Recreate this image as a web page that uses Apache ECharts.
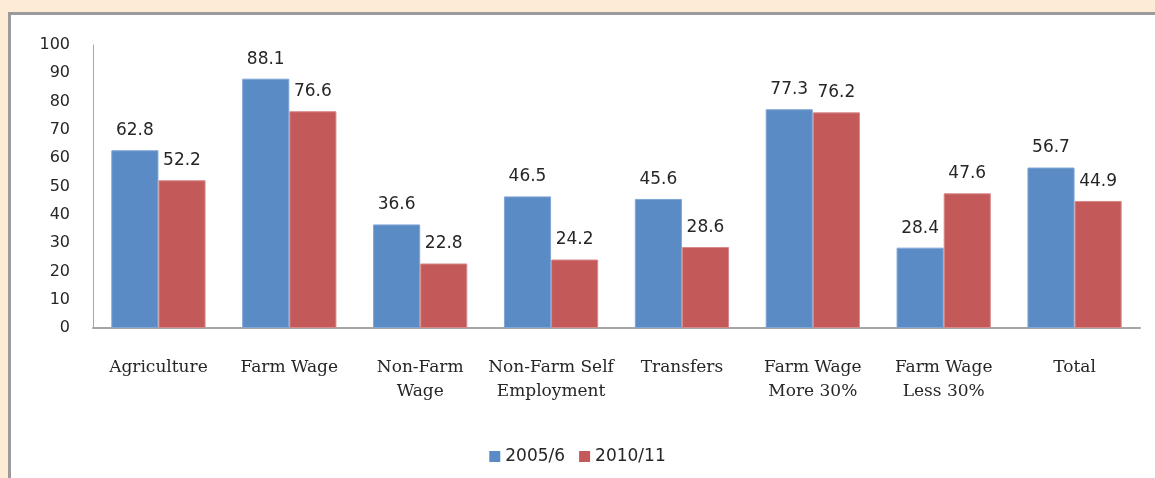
<!DOCTYPE html>
<html>
<head>
<meta charset="utf-8">
<script src="https://cdn.jsdelivr.net/npm/echarts@6/dist/echarts.min.js"></script>
<style>
    body { margin: 0; background: #FEEBD6; overflow: hidden; }
    #frame {
        position: absolute; left: 8px; top: 12px; width: 1200px; height: 520px;
        background: #fff; border: 3px solid #9b9b9b;
    }
    #chart { position: absolute; left: 0; top: 0; width: 1155px; height: 478px; }
</style>
</head>
<body>
<div id="frame"></div>
<div id="chart"></div>
<script>
var categories = ['Agriculture', 'Farm Wage', 'Non-Farm\nWage', 'Non-Farm Self\nEmployment', 'Transfers', 'Farm Wage\nMore 30%', 'Farm Wage\nLess 30%', 'Total']
var data2005 = [62.8, 88.1, 36.6, 46.5, 45.6, 77.3, 28.4, 56.7]
var data2010 = [52.2, 76.6, 22.8, 24.2, 28.6, 76.2, 47.6, 44.9]
var seriesNames = ['2005/6', '2010/11']

var chart = echarts.init(document.getElementById('chart'))
// labels above each bar
var labelStyle = {
    show: true,
    position: 'top',
    distance: 11,
    color: '#262626',
    fontFamily: 'DejaVu Sans',
    fontSize: 17
}
var option = {
    animation: false,
    backgroundColor: 'transparent',
    grid: { left: 93, right: 15, top: 45, bottom: 150 },
    legend: {
        data: seriesNames,
        left: 'center',
        top: 443,
        icon: 'rect',
        itemWidth: 11,
        itemHeight: 11,
        itemGap: 14,
        itemStyle: { borderWidth: 0 },
        textStyle: { color: '#262626', fontFamily: 'DejaVu Sans', fontSize: 17 }
    },
    xAxis: {
        type: 'category',
        data: categories,
        axisTick: { show: false },
        axisLine: { lineStyle: { color: '#a6a6a6', width: 2 } },
        axisLabel: {
            margin: 28,
            interval: 0,
            color: '#262626',
            fontFamily: 'DejaVu Serif',
            fontSize: 17,
            lineHeight: 24
        }
    },
    yAxis: {
        type: 'value',
        min: 0,
        max: 100,
        interval: 10,
        axisTick: { show: false },
        axisLine: { show: true, lineStyle: { color: '#a6a6a6', width: 1 } },
        splitLine: { show: false },
        axisLabel: { margin: 23, color: '#262626', fontFamily: 'DejaVu Sans', fontSize: 16 }
    },
    series: [
        {
            name: seriesNames[0],
            type: 'bar',
            data: data2005,
            barWidth: '36%',
            barGap: '0%',
            itemStyle: { color: '#5B8BC4', borderColor: '#7FA6D6', borderWidth: 1 },
            label: labelStyle
        },
        {
            name: seriesNames[1],
            type: 'bar',
            data: data2010,
            barWidth: '36%',
            itemStyle: { color: '#C4595A', borderColor: '#D88A8A', borderWidth: 1 },
            label: labelStyle
        }
    ]
}
chart.setOption(option)
</script>
</body>
</html>
